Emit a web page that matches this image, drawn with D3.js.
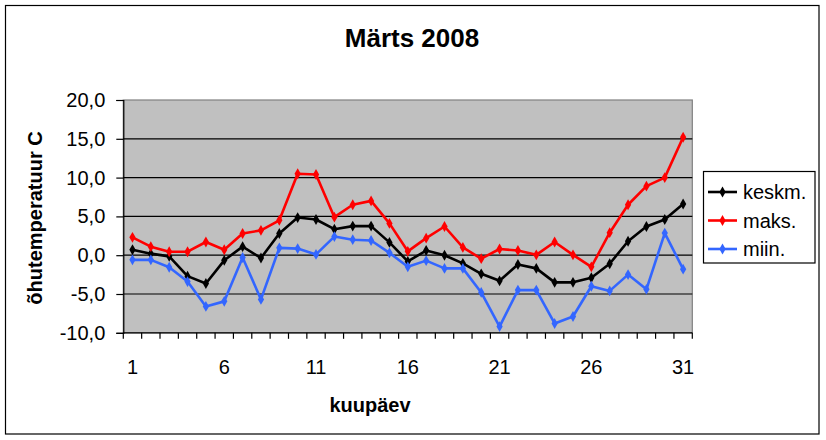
<!DOCTYPE html>
<html>
<head>
<meta charset="utf-8">
<script src="https://cdn.jsdelivr.net/npm/d3@7"></script>
<style>
html,body{margin:0;padding:0;background:#fff;}
svg text{font-family:Arial,"Liberation Sans",sans-serif;}
</style>
</head>
<body>
<svg id="chart" width="826" height="440"></svg>
<script>
const days = d3.range(1, 32).map(String);
const keskm = [0.7,0.2,-0.15,-2.7,-3.65,-0.66,1.1,-0.36,2.8,4.85,4.6,3.35,3.75,3.75,1.65,-0.8,0.6,0.0,-1.05,-2.4,-3.3,-1.2,-1.7,-3.5,-3.5,-2.9,-1.1,1.8,3.7,4.6,6.6];
const maks = [2.3,1.1,0.45,0.45,1.7,0.7,2.8,3.2,4.5,10.5,10.4,4.9,6.5,7.0,4.1,0.5,2.2,3.7,1.0,-0.45,0.8,0.6,0.05,1.7,0.05,-1.5,2.9,6.5,8.9,10.0,15.2];
const miin = [-0.6,-0.6,-1.55,-3.4,-6.6,-5.95,-0.3,-5.7,0.95,0.85,0.1,2.4,2.0,1.9,0.3,-1.5,-0.7,-1.7,-1.7,-4.8,-9.2,-4.5,-4.5,-8.8,-7.9,-4.0,-4.6,-2.5,-4.4,2.85,-1.8];
const yTicks = [-10,-5,0,5,10,15,20];
const xLabels = ["1","6","11","16","21","26","31"];
const seriesNames = ["keskm.","maks.","miin."];
const seriesColors = ["#000000","#FF0000","#3366FF"];
const seriesData = [keskm, maks, miin];

const svg = d3.select("#chart");
const L = 123.3, R = 692.3, T = 100, B = 332.8;

// outer frame
svg.append("rect").attr("x",5.5).attr("y",5.5).attr("width",813.5).attr("height",428.5)
  .attr("fill","#fff").attr("stroke","#000").attr("stroke-width",1.2);

const x = d3.scaleBand().domain(days).range([L, R]).padding(0);
const y = d3.scaleLinear().domain([-10, 20]).range([B, T]);
const cx = d => x(d) + x.bandwidth()/2;

// plot area
svg.append("rect").attr("x",L).attr("y",T).attr("width",R-L).attr("height",B-T)
  .attr("fill","#C0C0C0").attr("stroke","#808080").attr("stroke-width",1.2);

// gridlines
svg.append("g").selectAll("line").data(yTicks.filter(v => v > -10 && v < 20)).join("line")
  .attr("x1",L).attr("x2",R).attr("y1",d=>y(d)).attr("y2",d=>y(d))
  .attr("stroke","#000").attr("stroke-width",1.2);

// y axis
const yAxis = d3.axisLeft(y).tickValues(yTicks).tickSize(7).tickPadding(11)
  .tickFormat(d => d3.format(".1f")(d).replace(".", ",").replace("−","-"));
const gy = svg.append("g").attr("transform",`translate(${L},0)`).call(yAxis);
gy.select(".domain").attr("stroke","#000").attr("stroke-width",1.2);
gy.selectAll(".tick line").attr("stroke","#000").attr("stroke-width",1.2);
gy.selectAll("text").attr("font-size",20).attr("fill","#000").attr("font-family","Arial, 'Liberation Sans', sans-serif");

// x axis
svg.append("line").attr("x1",L).attr("x2",R).attr("y1",B).attr("y2",B).attr("stroke","#000").attr("stroke-width",1.2);
const bounds = days.map(d => x(d)).concat([R]);
svg.append("g").selectAll("line").data(bounds).join("line")
  .attr("x1",d=>d).attr("x2",d=>d).attr("y1",B).attr("y2",B+6)
  .attr("stroke","#000").attr("stroke-width",1.2);
svg.append("g").selectAll("text").data(xLabels).join("text")
  .attr("x",d=>cx(d)).attr("y",374).attr("text-anchor","middle")
  .attr("font-size",20).attr("fill","#000").text(d=>d);

// series
const line = d3.line().x((d,i)=>cx(days[i])).y(d=>y(d));
const sym = d3.symbol().type(d3.symbolDiamond).size(34);
seriesData.forEach((data, k) => {
  const g = svg.append("g");
  g.append("path").datum(data).attr("d", line).attr("fill","none")
    .attr("stroke", seriesColors[k]).attr("stroke-width",2.6).attr("stroke-linejoin","round");
  g.selectAll("path.m").data(data).join("path").attr("class","m")
    .attr("transform",(d,i)=>`translate(${cx(days[i])},${y(d)})`)
    .attr("d", sym).attr("fill", seriesColors[k]);
});

// titles
svg.append("text").attr("x",412).attr("y",47).attr("text-anchor","middle")
  .attr("font-size",26).attr("font-weight","bold").attr("fill","#000").text("Märts 2008");
svg.append("text").attr("x",370).attr("y",412).attr("text-anchor","middle")
  .attr("font-size",20).attr("font-weight","bold").attr("fill","#000").text("kuupäev");
svg.append("text").attr("transform","translate(42,218) rotate(-90)").attr("text-anchor","middle")
  .attr("font-size",20).attr("font-weight","bold").attr("fill","#000").text("õhutemperatuur C");

// legend
const lg = svg.append("g");
lg.append("rect").attr("x",703.5).attr("y",171.5).attr("width",111.5).attr("height",91.5)
  .attr("fill","#fff").attr("stroke","#000").attr("stroke-width",1.2);
const ly = [192, 220.5, 249];
seriesNames.forEach((n, k) => {
  lg.append("line").attr("x1",708).attr("x2",737).attr("y1",ly[k]).attr("y2",ly[k])
    .attr("stroke",seriesColors[k]).attr("stroke-width",2.6);
  lg.append("path").attr("transform",`translate(722.5,${ly[k]})`).attr("d",sym).attr("fill",seriesColors[k]);
  lg.append("text").attr("x",743).attr("y",ly[k]+7).attr("font-size",20).attr("fill","#000").text(n);
});
</script>
</body>
</html>
